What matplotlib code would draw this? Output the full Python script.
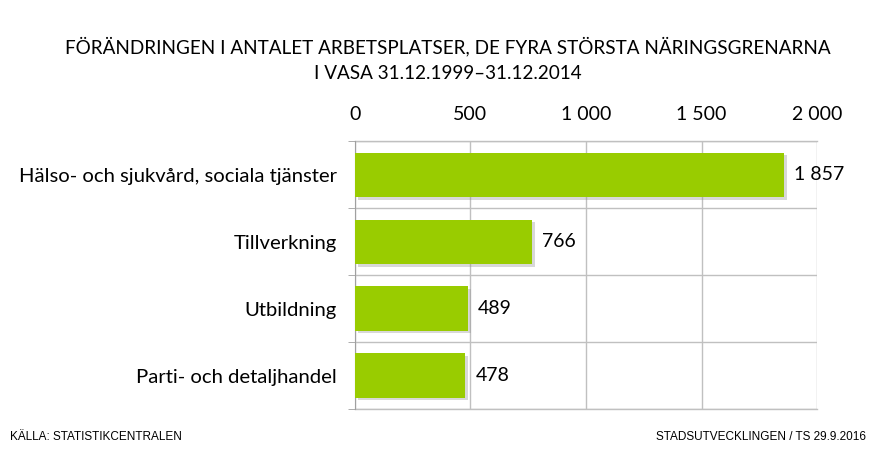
import matplotlib.pyplot as plt
import matplotlib.patheffects as pe

categories = ["Hälso- och sjukvård, sociala tjänster", "Tillverkning", "Utbildning", "Parti- och detaljhandel"]
values = [1857, 766, 489, 478]
ticks = [0, 500, 1000, 1500, 2000]

def fmt(v):
    return "{:,}".format(v).replace(",", " ")

plt.rcParams['font.family'] = ['Lato', 'DejaVu Sans']

fig = plt.figure(figsize=(8.96, 4.51), dpi=100)
ax = fig.add_axes([0.396, 0.093, 0.516, 0.594])

ypos = list(range(len(categories)))
bars = ax.barh(ypos, values, height=0.66, color='#99CC00', zorder=3)
for b in bars:
    b.set_path_effects([pe.SimplePatchShadow(offset=(2, -2), shadow_rgbFace='#909090', alpha=0.35), pe.Normal()])

for y, v in zip(ypos, values):
    ax.text(v + 45, y, fmt(v), va='center', ha='left', fontsize=14, color='black', zorder=4)

ax.set_xlim(0, 2000)
ax.set_ylim(len(categories) - 0.5, -0.5)
ax.set_xticks(ticks)
ax.set_xticklabels([fmt(t) for t in ticks], fontsize=14)
ax.xaxis.tick_top()
ax.tick_params(axis='x', length=0, pad=13)
ax.set_yticks(ypos)
ax.set_yticklabels(categories, fontsize=14.6)
ax.set_yticks([y + 0.5 for y in [-1] + ypos], minor=True)
ax.tick_params(axis='y', which='major', length=0, pad=13)
ax.tick_params(axis='y', which='minor', length=5, color='#a0a0a0')
ax.grid(axis='x', color='#c0c0c0', linewidth=1, zorder=0)
ax.grid(axis='y', which='minor', color='#c0c0c0', linewidth=1, zorder=0)
ax.axhline(-0.5, color='#c0c0c0', linewidth=1, clip_on=False, zorder=1)
ax.axhline(len(categories) - 0.5, color='#c0c0c0', linewidth=1, clip_on=False, zorder=1)
for s in ['top', 'bottom', 'right']:
    ax.spines[s].set_visible(False)
ax.spines['left'].set_color('#a0a0a0')

fig.text(0.5, 0.897, "FÖRÄNDRINGEN I ANTALET ARBETSPLATSER, DE FYRA STÖRSTA NÄRINGSGRENARNA", ha='center', va='center', fontsize=13.6)
fig.text(0.5, 0.838, "I VASA 31.12.1999–31.12.2014", ha='center', va='center', fontsize=13.6)

foot = ['Liberation Sans Narrow', 'Liberation Sans']
fig.text(0.011, 0.032, "KÄLLA: STATISTIKCENTRALEN", ha='left', va='center', fontsize=8.5, family=foot)
fig.text(0.967, 0.032, "STADSUTVECKLINGEN / TS 29.9.2016", ha='right', va='center', fontsize=8.5, family=foot)

fig.savefig("out.png", dpi=100, facecolor='white')
